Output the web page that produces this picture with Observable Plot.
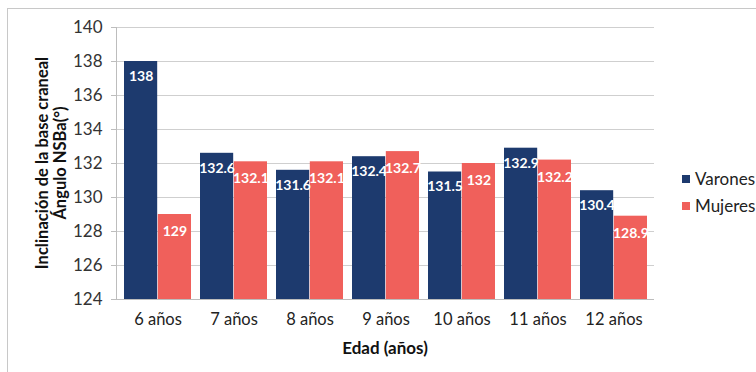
<!DOCTYPE html>
<html>
<head>
<meta charset="utf-8">
<script src="https://cdn.jsdelivr.net/npm/d3@7"></script>
<script src="https://cdn.jsdelivr.net/npm/@observablehq/plot@0.6"></script>
<style>
  html, body { margin: 0; padding: 0; background: #fff; }
  #wrap { position: relative; width: 756px; height: 372px; overflow: hidden; font-family: Lato, "Open Sans", sans-serif; }
  #border { position: absolute; left: 7px; top: 8px; width: 800px; height: 400px; border-left: 1px solid #c8c8c8; border-top: 1px solid #c8c8c8; }
  #ytitle { position: absolute; left: 51px; top: 163px; transform: translate(-50%, -50%) rotate(-90deg); font-weight: bold; font-size: 16.5px; line-height: 18px; text-align: center; white-space: nowrap; color: #111; }
  #xtitle { position: absolute; left: 385px; top: 347px; transform: translate(-50%, -50%); font-weight: bold; font-size: 17px; color: #111; white-space: nowrap; }
  #legend { position: absolute; left: 682px; top: 165px; font-size: 17px; color: #222; }
  #legend div { display: flex; align-items: center; height: 27px; }
  #legend span.sw { display: inline-block; width: 8px; height: 8px; margin-right: 5px; }
  #chart { position: absolute; left: 0; top: 0; }
</style>
</head>
<body>
<div id="wrap">
  <div id="border"></div>
  <div id="chart"></div>
  <div id="ytitle">Inclinación de la base craneal<br>Ángulo NSBa(°)</div>
  <div id="xtitle">Edad (años)</div>
  <div id="legend"></div>
</div>
<script>
const ages = ["6 años", "7 años", "8 años", "9 años", "10 años", "11 años", "12 años"];
const varones = [138, 132.6, 131.6, 132.4, 131.5, 132.9, 130.4];
const mujeres = [129, 132.1, 132.1, 132.7, 132, 132.2, 128.9];
const series = ["Varones", "Mujeres"];
const colors = ["#1d3a6e", "#f0605b"];
const yTicks = [124, 126, 128, 130, 132, 134, 136, 138, 140];

const rows = [];
ages.forEach((a, i) => {
  rows.push({age: a, sex: "Varones", value: varones[i]});
  rows.push({age: a, sex: "Mujeres", value: mujeres[i]});
});

const W = 756, H = 372;
const mL = 116, mR = 102, mT = 27, mB = 73;
const pIn = 0.12, pOut = 0.06;
const step = (W - mL - mR) / (ages.length - pIn + 2 * pOut);
const bw = step * (1 - pIn);
const half = bw / 2;

const v = rows.filter(d => d.sex === "Varones");
const m = rows.filter(d => d.sex === "Mujeres");

const chart = Plot.plot({
  width: W, height: H,
  marginLeft: mL, marginRight: mR, marginTop: mT, marginBottom: mB,
  style: {fontFamily: "Lato, 'Open Sans', sans-serif", background: "transparent"},
  x: {domain: ages, paddingInner: pIn, paddingOuter: pOut, label: null},
  y: {domain: [124, 140], label: null},
  marks: [
    Plot.ruleY(yTicks, {stroke: "#cfcfcf", strokeWidth: 1}),
    Plot.barY(v, {x: "age", y1: 124, y2: "value", fill: colors[0], insetRight: half}),
    Plot.barY(m, {x: "age", y1: 124, y2: "value", fill: colors[1], insetLeft: half}),
    Plot.text(v, {x: "age", y: "value", text: d => String(d.value), dx: -half / 2, dy: 15, fill: "white", fontWeight: "bold", fontSize: 14}),
    Plot.text(m, {x: "age", y: "value", text: d => String(d.value), dx: half / 2, dy: 17, fill: "white", fontWeight: "bold", fontSize: 14}),
    Plot.axisY({ticks: yTicks, tickSize: 5, tickPadding: 9, stroke: "#bdbdbd", fill: "#333", fontSize: 17, label: null}),
    Plot.axisX({tickSize: 0, tickPadding: 14, fill: "#222", fontSize: 16.5, label: null}),
    Plot.frame({anchor: "left", stroke: "#bdbdbd"}),
    Plot.ruleY([124], {stroke: "#bdbdbd"})
  ]
});
document.getElementById("chart").appendChild(chart);

const leg = document.getElementById("legend");
series.forEach((s, i) => {
  const d = document.createElement("div");
  d.innerHTML = `<span class="sw" style="background:${colors[i]}"></span>${s}`;
  leg.appendChild(d);
});
</script>
</body>
</html>
